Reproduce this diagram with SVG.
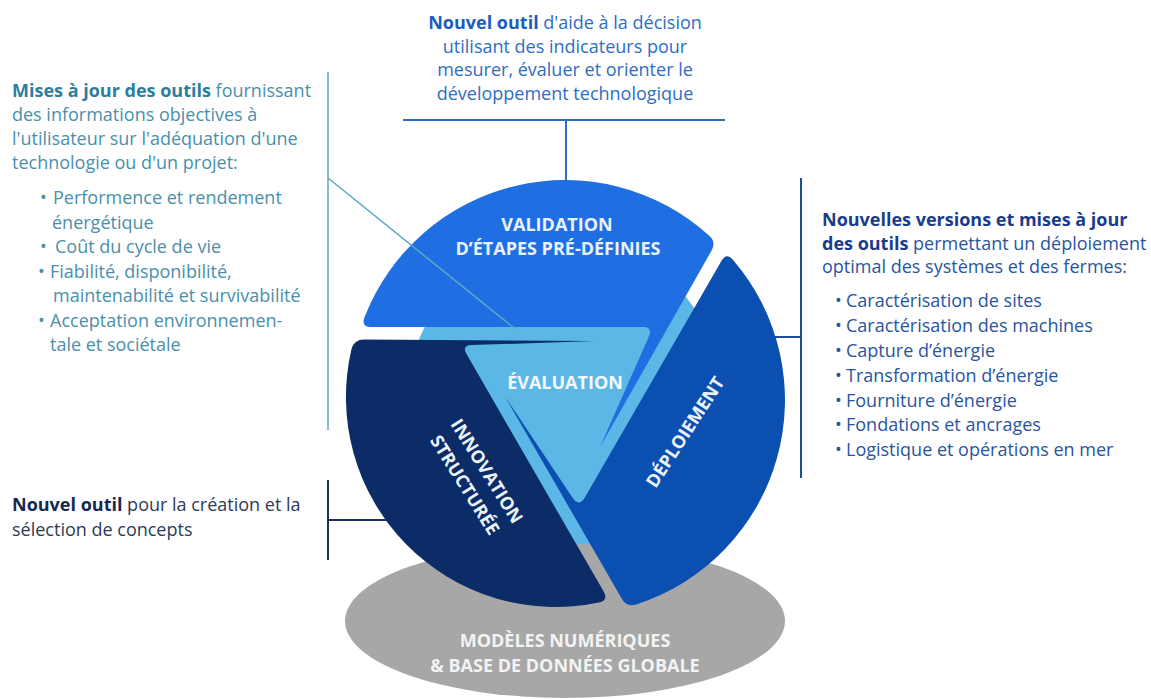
<svg xmlns="http://www.w3.org/2000/svg" width="1151" height="699" viewBox="0 0 1151 699">
<style>
text { font-family: 'Open Sans', 'Noto Sans', 'Liberation Sans', sans-serif; }
.body { font-size: 18px; }
.b { font-weight: 700; }
.top { fill: #2d6ec3; } .topb { fill: #1a5dbd; }
.lt { fill: #4a8fab; } .ltb { fill: #2d7e9e; }
.rt { fill: #2855a0; } .rtb { fill: #1a3c8c; }
.bl { fill: #2c3b58; } .blb { fill: #172850; }
.lbl { font-size: 18px; font-weight: 700; fill: #eaf2fc; text-anchor: middle; }
.mid { text-anchor: middle; }
.conn { fill: none; }
</style>

<g id="background">
  <circle cx="565" cy="397" r="157" fill="#5ab7e6"/>
  <ellipse cx="565" cy="621" rx="220" ry="77" fill="#a7a7a7"/>
</g>

<g id="modeles">
  <text class="lbl" x="565" y="647" fill="#f3f3f3" style="fill:#f3f3f3">MODÈLES NUMÉRIQUES</text>
  <text class="lbl" x="565" y="672" style="fill:#f3f3f3">&amp; BASE DE DONNÉES GLOBALE</text>
</g>

<g id="validation">
  <path d="M371,327 Q361,327 364.4,317.6 A215,215 0 0 1 709,235.4 Q716.5,242 711.5,250.7 L600,447 L649,336.2 Q653,327 643,327 Z" fill="#1f6fe3"/>
  <text class="lbl" x="557" y="231">VALIDATION</text>
  <text class="lbl" x="558" y="255">D’ÉTAPES PRÉ-DÉFINIES</text>
</g>

<g id="innovation">
  <path d="M364,339.5 L594,341 L471.5,345.1 Q461.5,345.4 466.5,354.1 L603.7,591.6 Q608.7,600.3 598.9,602.6 A210,210 0 0 1 351.5,349 Q354,339.5 364,339.5 Z" fill="#0b2c66"/>
  <g transform="translate(476,478) rotate(58)">
    <text class="lbl" x="0" y="-6.5">INNOVATION</text>
    <text class="lbl" x="0" y="19.5">STRUCTURÉE</text>
  </g>
</g>

<g id="deploiement">
  <path d="M721.4,261.1 Q726.4,252.4 732.9,259.7 A215,215 0 0 1 636.3,604.5 Q626.8,607.4 621.8,598.7 L505.3,397 L572.4,497.6 Q579,507.6 585,497.2 Z" fill="#0b4fb1"/>
  <g transform="translate(685,432) rotate(-57)">
    <text class="lbl" x="0" y="6.5">DÉPLOIEMENT</text>
  </g>
</g>

<g id="evaluation">
  <text class="lbl" x="565" y="388.5" style="fill:#f4f9fd">ÉVALUATION</text>
</g>

<g id="connectors">
  <line class="conn" x1="403" y1="120" x2="725" y2="120" stroke="#2f6cbf" stroke-width="2"/>
  <line class="conn" x1="566" y1="120" x2="566" y2="181" stroke="#2f6cbf" stroke-width="2"/>
  <line class="conn" x1="328" y1="72" x2="328" y2="430" stroke="#5aa8c6" stroke-width="1.5"/>
  <line class="conn" x1="328" y1="178" x2="514" y2="328" stroke="#5aa8c6" stroke-width="1.5"/>
  <line class="conn" x1="801" y1="178" x2="801" y2="478" stroke="#1f4d9c" stroke-width="2"/>
  <line class="conn" x1="775" y1="337" x2="801" y2="337" stroke="#1f4d9c" stroke-width="2"/>
  <line class="conn" x1="328" y1="480" x2="328" y2="560" stroke="#1c2e5c" stroke-width="2"/>
  <line class="conn" x1="328" y1="520" x2="387" y2="520" stroke="#1c2e5c" stroke-width="2"/>
</g>

<g id="note-top" class="body">
  <text class="mid top" x="565" y="29"><tspan class="b topb">Nouvel outil</tspan> d'aide à la décision</text>
  <text class="mid top" x="565" y="52.5">utilisant des indicateurs pour</text>
  <text class="mid top" x="565" y="76">mesurer, évaluer et orienter le</text>
  <text class="mid top" x="565" y="99.5">développement technologique</text>
</g>

<g id="note-left" class="body">
  <text class="lt" x="12" y="96.5"><tspan class="b ltb">Mises à jour des outils</tspan> fournissant</text>
  <text class="lt" x="12" y="120.5">des informations objectives à</text>
  <text class="lt" x="12" y="145">l'utilisateur sur l'adéquation d'une</text>
  <text class="lt" x="12" y="169">technologie ou d'un projet:</text>
  <text class="lt" y="204"><tspan x="40">•</tspan><tspan x="53">Performence et rendement</tspan></text>
  <text class="lt" x="52" y="228.5">énergétique</text>
  <text class="lt" y="253"><tspan x="40">•</tspan><tspan x="55">Coût du cycle de vie</tspan></text>
  <text class="lt" y="277.5"><tspan x="38">•</tspan><tspan x="50">Fiabilité, disponibilité,</tspan></text>
  <text class="lt" x="53" y="302">maintenabilité et survivabilité</text>
  <text class="lt" y="326.5"><tspan x="38">•</tspan><tspan x="50">Acceptation environnemen-</tspan></text>
  <text class="lt" x="50" y="351">tale et sociétale</text>
</g>

<g id="note-right" class="body">
  <text class="rtb b" x="822" y="226">Nouvelles versions et mises à jour</text>
  <text class="rt" x="822" y="250"><tspan class="b rtb">des outils</tspan> permettant un déploiement</text>
  <text class="rt" x="822" y="272.5">optimal des systèmes et des fermes:</text>
  <text class="rt" y="307"><tspan x="835">•</tspan><tspan x="846">Caractérisation de sites</tspan></text>
  <text class="rt" y="332"><tspan x="835">•</tspan><tspan x="846">Caractérisation des machines</tspan></text>
  <text class="rt" y="357"><tspan x="835">•</tspan><tspan x="846">Capture d’énergie</tspan></text>
  <text class="rt" y="382"><tspan x="835">•</tspan><tspan x="846">Transformation d’énergie</tspan></text>
  <text class="rt" y="407"><tspan x="835">•</tspan><tspan x="846">Fourniture d’énergie</tspan></text>
  <text class="rt" y="430.5"><tspan x="835">•</tspan><tspan x="846">Fondations et ancrages</tspan></text>
  <text class="rt" y="455.5"><tspan x="835">•</tspan><tspan x="846">Logistique et opérations en mer</tspan></text>
</g>

<g id="note-bottom-left" class="body">
  <text class="bl" x="12" y="511"><tspan class="b blb">Nouvel outil</tspan> pour la création et la</text>
  <text class="bl" x="12" y="536">sélection de concepts</text>
</g>
</svg>
